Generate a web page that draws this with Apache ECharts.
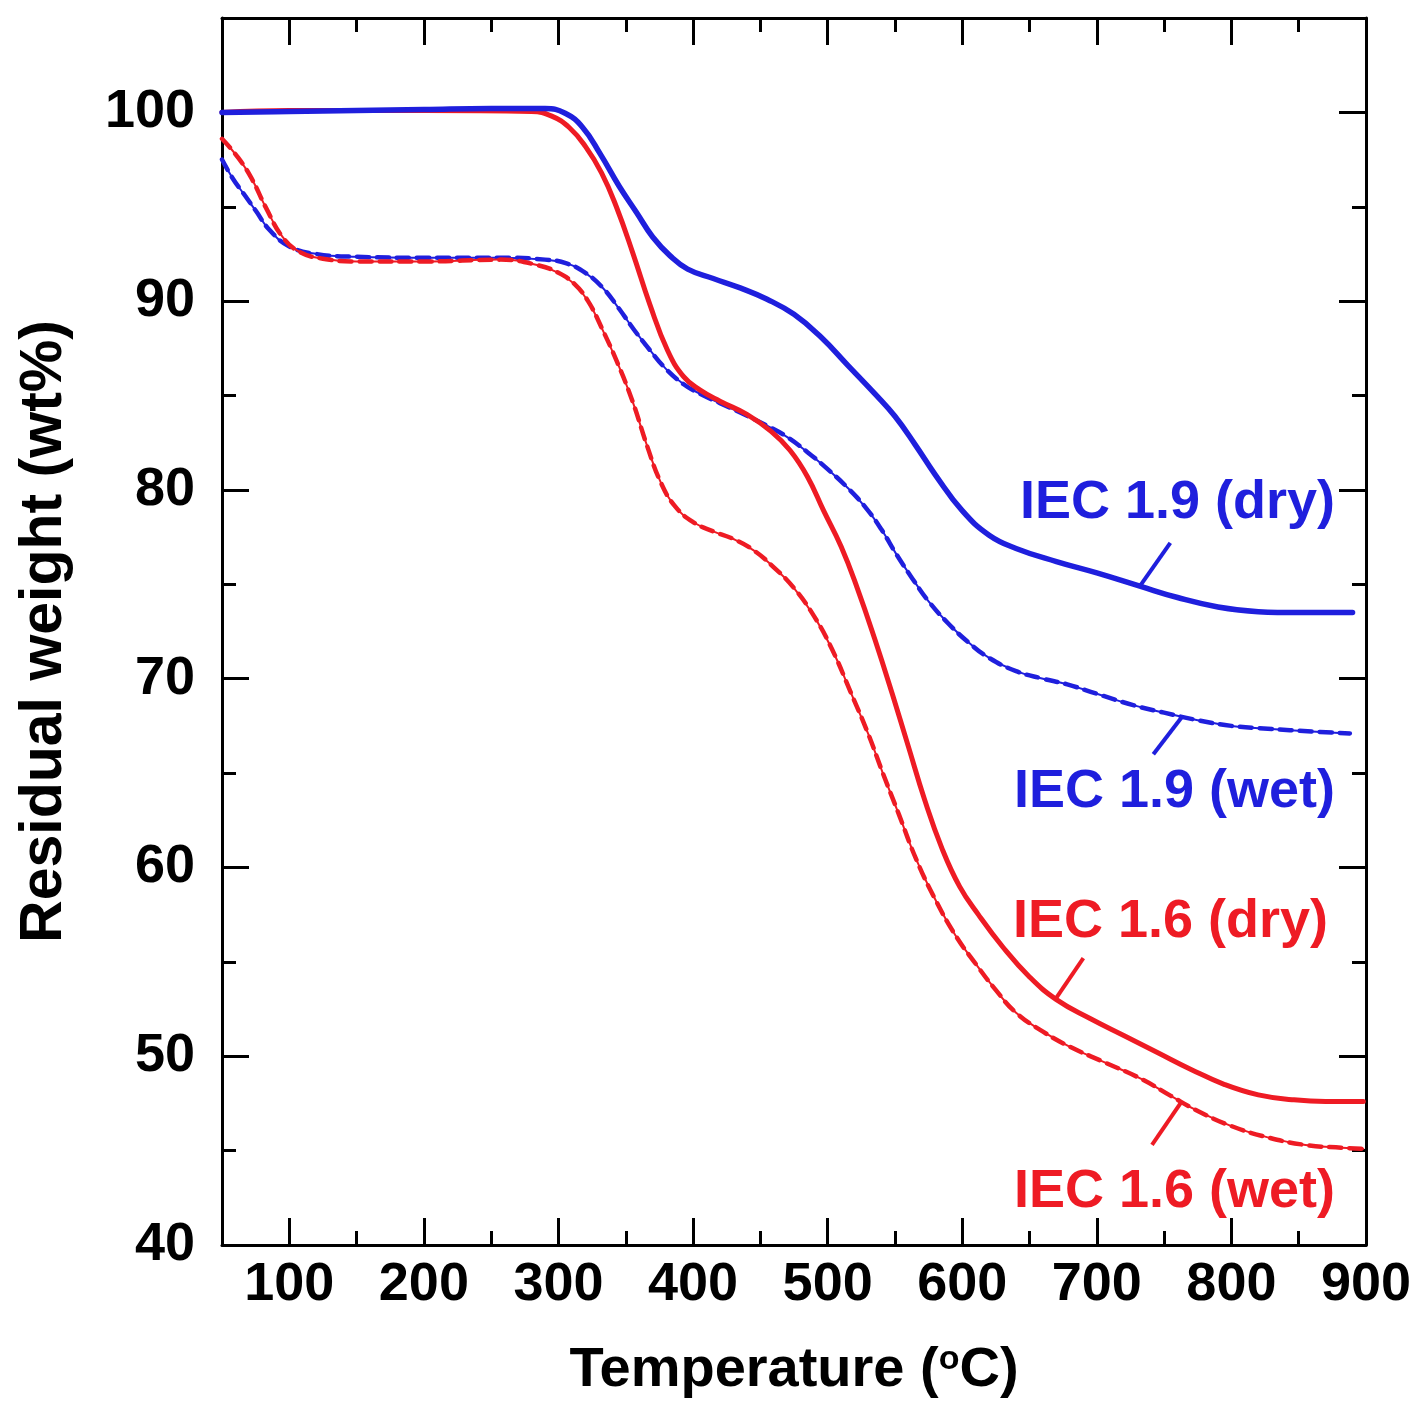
<!DOCTYPE html>
<html><head><meta charset="utf-8">
<script src="https://cdn.jsdelivr.net/npm/echarts@6/dist/echarts.min.js"></script>
<style>html,body{margin:0;padding:0;background:#fff}#c{width:1420px;height:1409px}</style>
</head><body><div id="c"></div>
<script>
// ---- tick values ----
const xMajorTicks = [100, 200, 300, 400, 500, 600, 700, 800, 900];
const xMinorTicks = [150, 250, 350, 450, 550, 650, 750, 850];
const yMajorTicks = [40, 50, 60, 70, 80, 90, 100];
const yMinorTicks = [45, 55, 65, 75, 85, 95];

// ---- IEC 1.9 (dry) ----
const dry19T = [50, 100, 150, 200, 250, 290, 305, 318, 331, 345, 358, 370, 383, 396, 415, 435, 455, 475, 495, 515, 535, 550, 565, 580, 600, 620, 640, 670, 700, 732, 760, 790, 820, 850, 890];
const dry19W = [100.0, 100.05, 100.1, 100.15, 100.2, 100.2, 99.95, 99.2, 97.8, 96.1, 94.7, 93.4, 92.4, 91.7, 91.2, 90.7, 90.1, 89.3, 88.1, 86.6, 85.1, 83.9, 82.4, 80.8, 78.9, 77.6, 76.9, 76.2, 75.6, 74.9, 74.3, 73.8, 73.55, 73.5, 73.5];

// ---- IEC 1.9 (wet) ----
const wet19T = [50, 58, 66, 75, 85, 100, 120, 150, 200, 257, 290, 306, 320, 333, 344, 356, 368, 380, 393, 405, 420, 435, 455, 470, 485, 500, 515, 529, 540, 551, 563, 575, 590, 605, 620, 640, 660, 678, 700, 727, 750, 775, 800, 827, 860, 888];
const wet19W = [97.5, 96.5, 95.7, 94.8, 93.8, 92.9, 92.5, 92.35, 92.3, 92.3, 92.2, 92.0, 91.5, 90.7, 89.7, 88.5, 87.4, 86.4, 85.6, 85.1, 84.6, 84.1, 83.4, 82.8, 82.0, 81.1, 80.1, 79.0, 77.9, 76.6, 75.3, 74.1, 72.9, 71.9, 71.1, 70.4, 70.0, 69.7, 69.2, 68.6, 68.2, 67.8, 67.5, 67.35, 67.2, 67.1];

// ---- IEC 1.6 (dry) ----
const dry16T = [50, 100, 200, 280, 295, 308, 320, 332, 343, 355, 368, 381, 393, 405, 420, 440, 458, 472, 485, 497, 510, 522, 535, 548, 560, 572, 585, 598, 612, 630, 650, 670, 695, 720, 745, 770, 795, 820, 845, 870, 898];
const dry16W = [100.0, 100.1, 100.1, 100.05, 99.8, 99.2, 98.2, 96.8, 95.0, 92.6, 89.8, 87.4, 86.0, 85.3, 84.7, 84.0, 83.1, 82.1, 80.7, 78.9, 77.0, 74.8, 72.1, 69.2, 66.4, 63.6, 61.0, 59.0, 57.5, 55.8, 54.2, 53.0, 52.0, 51.1, 50.2, 49.3, 48.5, 47.95, 47.7, 47.6, 47.6];

// ---- IEC 1.6 (wet) ----
const wet16T = [50, 62, 72, 83, 95, 108, 125, 150, 200, 257, 285, 300, 312, 322, 332, 344, 355, 366, 376, 387, 400, 415, 430, 445, 460, 475, 490, 503, 517, 530, 541, 553, 566, 580, 595, 611, 625, 640, 660, 680, 705, 733, 755, 775, 800, 827, 855, 882, 898];
const wet16W = [98.6, 97.6, 96.5, 94.9, 93.4, 92.6, 92.25, 92.1, 92.1, 92.2, 91.9, 91.5, 90.9, 90.0, 88.6, 86.7, 84.7, 82.3, 80.4, 79.1, 78.3, 77.8, 77.4, 76.8, 75.9, 74.8, 73.3, 71.6, 69.3, 67.1, 65.0, 62.8, 60.4, 58.3, 56.4, 54.8, 53.5, 52.3, 51.3, 50.5, 49.7, 48.8, 47.9, 47.1, 46.3, 45.7, 45.3, 45.15, 45.1];

// ---- annotation labels ----
const labelTexts = ['IEC 1.9 (dry)', 'IEC 1.9 (wet)', 'IEC 1.6 (dry)', 'IEC 1.6 (wet)'];
// leader lines in data units: [[T1, W1], [T2, W2]]
const leaderDry19 = [[732, 74.9], [754.6, 77.2]];
const leaderWet19 = [[763.5, 68.0], [742, 66.0]];
const leaderDry16 = [[669, 53.0], [690, 55.2]];
const leaderWet16 = [[763, 47.6], [741, 45.3]];

const BLUE = '#1f1fdd';
const RED = '#ee1b24';
const FONT = '"Liberation Sans", Arial, Helvetica, sans-serif';

function zip(a, b) { return a.map((v, i) => [v, b[i]]); }
function leader(pts, color) {
  return {
    silent: true, symbol: 'none', animation: false,
    label: { show: false },
    lineStyle: { color: color, width: 4, type: 'solid' },
    emphasis: { disabled: true },
    data: [[{ coord: pts[0] }, { coord: pts[1] }]]
  };
}

const gridBox = { left: 222, right: 54, top: 18, bottom: 164, containLabel: false };

function xAx(grid, pos, ticks, len, showLine, showLabel, extra) {
  return Object.assign({
    type: 'value', gridIndex: grid, position: pos, min: 50, max: 900,
    axisLine: { show: showLine, onZero: false, lineStyle: { color: '#000', width: 3 } },
    axisTick: { show: true, inside: true, length: len, customValues: ticks, lineStyle: { color: '#000', width: 3 } },
    axisLabel: { show: showLabel, customValues: ticks, margin: 13, color: '#000', fontSize: 54, fontWeight: 'bold', fontFamily: FONT },
    splitLine: { show: false }, minorTick: { show: false }
  }, extra || {});
}
function yAx(grid, pos, ticks, len, showLine, showLabel, extra) {
  return Object.assign({
    type: 'value', gridIndex: grid, position: pos, min: 40, max: 105,
    axisLine: { show: showLine, onZero: false, lineStyle: { color: '#000', width: 3 } },
    axisTick: { show: true, inside: true, length: len, customValues: ticks, lineStyle: { color: '#000', width: 3 } },
    axisLabel: { show: showLabel, customValues: ticks, margin: 27, color: '#000', fontSize: 54, fontWeight: 'bold', fontFamily: FONT },
    splitLine: { show: false }, minorTick: { show: false }
  }, extra || {});
}

function line(name, T, W, color, width, dash, ml) {
  const s = { name: name, type: 'line', xAxisIndex: 0, yAxisIndex: 0, data: zip(T, W),
    smooth: 0.45, symbol: 'none', showSymbol: false,
    lineStyle: { color: color, width: width, type: dash || 'solid', cap: 'round', join: 'round' } };
  if (ml) s.markLine = ml;
  return s;
}

const option = {
  backgroundColor: '#fff',
  animation: false,
  grid: [Object.assign({}, gridBox), Object.assign({}, gridBox)],
  xAxis: [
    xAx(0, 'bottom', xMajorTicks, 27, true, true, {
      name: 'Temperature ({sup|o}C)', nameLocation: 'middle', nameGap: 98,
      nameTextStyle: { color: '#000', fontSize: 56, fontWeight: 'bold', fontFamily: FONT,
        rich: { sup: { fontSize: 34, fontWeight: 'bold', fontFamily: FONT, color: '#000', verticalAlign: 'top' } } }
    }),
    xAx(0, 'top', xMajorTicks, 27, true, false),
    xAx(1, 'bottom', xMinorTicks, 14, false, false),
    xAx(1, 'top', xMinorTicks, 14, false, false)
  ],
  yAxis: [
    yAx(0, 'left', yMajorTicks, 27, true, true, {
      name: 'Residual weight (wt%)', nameLocation: 'middle', nameGap: 148,
      nameTextStyle: { color: '#000', fontSize: 59, fontWeight: 'bold', fontFamily: FONT }
    }),
    yAx(0, 'right', yMajorTicks, 27, true, false),
    yAx(1, 'left', yMinorTicks, 14, false, false),
    yAx(1, 'right', yMinorTicks, 14, false, false)
  ],
  series: [
    line('IEC 1.9 (wet) base', wet19T, wet19W, BLUE, 2, null, leader(leaderWet19, BLUE)),
    line('IEC 1.9 (wet)', wet19T, wet19W, BLUE, 4.5, [12, 8]),
    line('IEC 1.6 (wet) base', wet16T, wet16W, RED, 2, null, leader(leaderWet16, RED)),
    line('IEC 1.6 (wet)', wet16T, wet16W, RED, 4.5, [12, 8]),
    line('IEC 1.6 (dry)', dry16T, dry16W, RED, 5, null, leader(leaderDry16, RED)),
    line('IEC 1.9 (dry)', dry19T, dry19W, BLUE, 5.5, null, leader(leaderDry19, BLUE))
  ],
  graphic: [
    { type: 'text', right: 1420 - 1335, top: 506 - 30, style: { text: labelTexts[0], font: 'bold 54px ' + FONT, fill: BLUE } },
    { type: 'text', right: 1420 - 1335, top: 795 - 30, style: { text: labelTexts[1], font: 'bold 54px ' + FONT, fill: BLUE } },
    { type: 'text', right: 1420 - 1328, top: 925 - 30, style: { text: labelTexts[2], font: 'bold 54px ' + FONT, fill: RED } },
    { type: 'text', right: 1420 - 1335, top: 1195 - 30, style: { text: labelTexts[3], font: 'bold 54px ' + FONT, fill: RED } }
  ]
};
const chart = echarts.init(document.getElementById('c'), null, { renderer: 'canvas' });
chart.setOption(option);
</script></body></html>
